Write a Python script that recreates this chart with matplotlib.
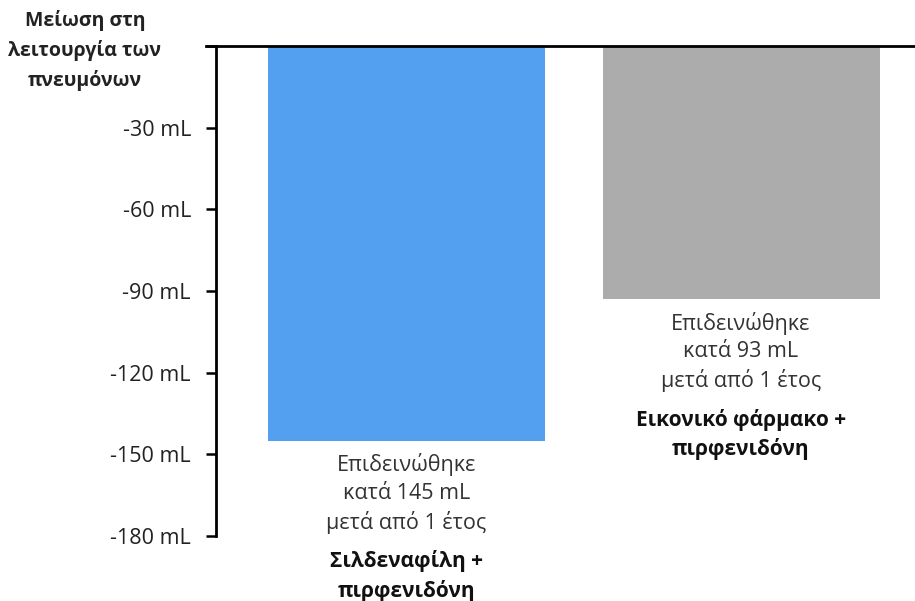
import matplotlib
matplotlib.use('Agg')
import matplotlib.pyplot as plt

plt.rcParams['font.family'] = ['Open Sans', 'DejaVu Sans']

groups = ['Σιλδεναφίλη +\nπιρφενιδόνη', 'Εικονικό φάρμακο +\nπιρφενιδόνη']
values = [-145, -93]
notes = ['Επιδεινώθηκε\nκατά 145 mL\nμετά από 1 έτος',
         'Επιδεινώθηκε\nκατά 93 mL\nμετά από 1 έτος']
colors = ['#539ff0', '#acacac']
yticks = [0, -30, -60, -90, -120, -150, -180]
ytick_labels = ['', '-30 mL', '-60 mL', '-90 mL', '-120 mL', '-150 mL', '-180 mL']

fig = plt.figure(figsize=(9.15, 6.01), dpi=100)
ax = fig.add_axes([216 / 915, 1 - 536 / 601, 1 - 216 / 915, 490 / 601])

x = [0, 1]
ax.bar(x, values, width=0.828, color=colors, zorder=2)
ax.set_xlim(-0.5695, 1.52)
ax.set_ylim(-180, 0)

ax.set_yticks(yticks)
ax.set_yticklabels(ytick_labels, fontsize=15.5, color='#222222')
ax.tick_params(axis='y', length=7, width=1.8, pad=11)
ax.set_xticks([])

for s in ['right', 'bottom']:
    ax.spines[s].set_visible(False)
ax.spines['left'].set_linewidth(2)
ax.spines['top'].set_linewidth(2)
ax.spines['top'].set_zorder(3)
ax.spines['top'].set_bounds(-0.6, 1.52)
ax.spines['top'].set_clip_on(False)

for xi, v, note, grp in zip(x, values, notes, groups):
    ax.annotate(note, (xi, v), xytext=(0, -9), textcoords='offset points',
                ha='center', va='top', fontsize=15.5, color='#333333',
                linespacing=1.4, annotation_clip=False)
    ax.annotate(grp, (xi, v), xytext=(0, -79), textcoords='offset points',
                ha='center', va='top', fontsize=15, fontweight='bold',
                color='#111111', linespacing=1.42, annotation_clip=False)

fig.text(85 / 915, 1 - 10 / 601, 'Μείωση στη\nλειτουργία των\nπνευμόνων',
         ha='center', va='top', fontsize=14, fontweight='bold',
         color='#222222', linespacing=1.55)

plt.savefig('out.png', dpi=100)
